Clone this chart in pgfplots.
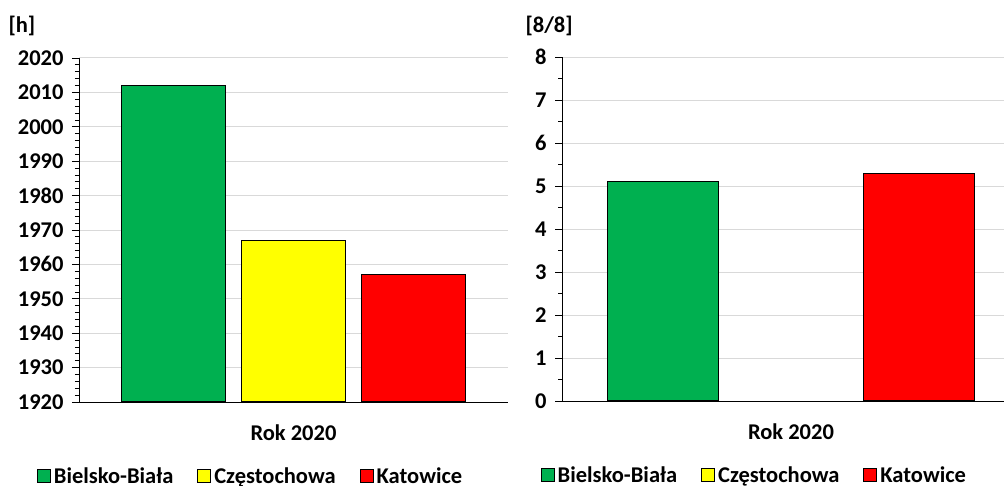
\documentclass[border=0pt]{standalone}
\usepackage{pgfplots}
\pgfplotsset{compat=1.18}
\usepackage{fontspec}
\setmainfont{Carlito}

\definecolor{bbgreen}{HTML}{00B050}
\definecolor{czyellow}{HTML}{FFFF00}
\definecolor{katred}{HTML}{FF0000}
\definecolor{gridgray}{HTML}{D9D9D9}

\newcommand{\chartfont}{\fontsize{22.5}{26}\selectfont\bfseries}

\pgfplotsset{
    excelbar/.style={
        scale only axis, height=344pt,
        axis lines=left, axis line style={line width=1pt, -},
        ybar, bar width=0.867, bar shift=0pt,
        xmin=0.21, xmax=3.79,
        xtick={2}, xticklabels={Rok 2020},
        x tick style={draw=none},
        xticklabel style={font=\chartfont, yshift=-12pt},
        ymajorgrids, grid style={gridgray, line width=1pt},
        tick align=outside, major tick length=7pt, minor tick length=4pt,
        y tick style={black, line width=0.8pt},
        yticklabel style={font=\chartfont, xshift=-5pt},
        /pgf/number format/assume math mode=true,
        /pgf/number format/1000 sep={},
        every axis plot/.append style={draw=black, line width=1.2pt},
        legend columns=3,
        legend style={draw=none, fill=none, font=\chartfont,
            /tikz/every even column/.append style={column sep=22pt},
            /tikz/every odd column/.append style={column sep=1pt}},
        legend image code/.code={\draw[#1, line width=1pt] (0pt,-6.5pt) rectangle (13pt,6.5pt);},
    }
}

\begin{document}
\begin{tikzpicture}
    \path[use as bounding box] (0pt,0pt) rectangle (1004pt,-486pt);

    % lewy wykres: liczba godzin
    \begin{axis}[excelbar, width=429pt,
        at={(79pt,-402pt)}, anchor=south west,
        ymin=1920, ymax=2020, ytick distance=10, minor y tick num=4,
        legend style={at={(0.40,-0.215)}, anchor=center},
    ]
        \addplot[fill=bbgreen] coordinates {(1,2012)};
        \addplot[fill=czyellow] coordinates {(2,1967)};
        \addplot[fill=katred] coordinates {(3,1957)};
        \legend{Bielsko-Biała, Częstochowa, Katowice}
    \end{axis}
    \node[font=\chartfont, anchor=west] at (5pt,-26pt) {[h]};

    % prawy wykres: zachmurzenie (brak danych dla Częstochowy)
    \begin{axis}[excelbar, width=458pt,
        at={(562pt,-401pt)}, anchor=south west,
        ymin=0, ymax=8, ytick distance=1, minor y tick num=1,
        legend style={at={(0.42,-0.215)}, anchor=center},
    ]
        \addplot[fill=bbgreen] coordinates {(1,5.1)};
        \addlegendimage{draw=black, fill=czyellow}
        \addplot[fill=katred] coordinates {(3,5.3)};
        \legend{Bielsko-Biała, Częstochowa, Katowice}
    \end{axis}
    \node[font=\chartfont, anchor=west] at (522pt,-26pt) {[8/8]};
\end{tikzpicture}
\end{document}
